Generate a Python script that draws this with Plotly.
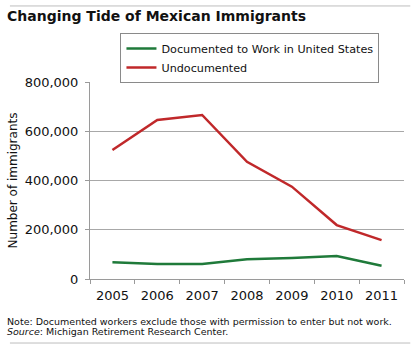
import plotly.graph_objects as go

years = ["2005", "2006", "2007", "2008", "2009", "2010", "2011"]
documented = [68000, 61000, 61000, 80000, 85000, 93000, 54000]
undocumented = [524000, 646000, 666000, 476000, 375000, 219000, 158000]
y_ticks = [0, 200000, 400000, 600000, 800000]
y_tick_labels = ["0", "200,000", "400,000", "600,000", "800,000"]

FONT = "DejaVu Sans"
fig = go.Figure()
fig.add_trace(go.Scatter(x=years, y=documented, mode="lines",
                         name="Documented to Work in United States",
                         line=dict(color="#1f7a3a", width=2.5)))
fig.add_trace(go.Scatter(x=years, y=undocumented, mode="lines",
                         name="Undocumented",
                         line=dict(color="#c0282a", width=2.5)))

fig.update_layout(
    width=416, height=349,
    margin=dict(l=86, r=12, t=82, b=70),
    paper_bgcolor="white", plot_bgcolor="white",
    font=dict(family=FONT, color="#111111"),
    showlegend=True,
    legend=dict(x=0.097, y=1.249, xanchor="left", yanchor="top",
                bordercolor="#8a8a8a", borderwidth=1,
                font=dict(size=11.2, family=FONT, color="#111"),
                tracegroupgap=0, itemwidth=30),
    xaxis=dict(type="category", showgrid=False, showline=True,
               linecolor="#9a9a9a", linewidth=1, ticks="outside",
               tickson="boundaries", ticklen=4, tickcolor="#9a9a9a",
               tickfont=dict(size=13, family=FONT, color="#111"),
               ticklabelstandoff=4,
               range=[-0.5, 6.5]),
    yaxis=dict(range=[0, 800000], tickvals=y_ticks, ticktext=y_tick_labels,
               showgrid=True, gridcolor="#a8a8a8", gridwidth=1,
               showline=True, linecolor="#9a9a9a", zeroline=False,
               ticks="outside", ticklen=4, tickcolor="#9a9a9a",
               tickfont=dict(size=13, family=FONT, color="#111"),
               ticklabelstandoff=4,
               title=dict(text="Number of immigrants", standoff=4,
                          font=dict(size=12, family=FONT, color="#111"))),
)

fig.add_annotation(text="<b>Changing Tide of Mexican Immigrants</b>",
                   xref="paper", yref="paper", x=-0.27, y=1.335,
                   xanchor="left", yanchor="middle", showarrow=False,
                   font=dict(size=14, family=FONT, color="#111"))
fig.add_annotation(text="Note: Documented workers exclude those with permission to enter but not work.",
                   xref="paper", yref="paper", x=-0.27, y=-0.218,
                   xanchor="left", yanchor="middle", showarrow=False, align="left",
                   font=dict(size=9.5, family=FONT, color="#111"))
fig.add_annotation(text="<i>Source</i>: Michigan Retirement Research Center.",
                   xref="paper", yref="paper", x=-0.27, y=-0.269,
                   xanchor="left", yanchor="middle", showarrow=False, align="left",
                   font=dict(size=9.5, family=FONT, color="#111"))
fig.add_shape(type="line", xref="paper", yref="paper", x0=-0.255, x1=1.02,
              y0=1.386, y1=1.386, line=dict(color="#bdbdbd", width=1))
fig.add_shape(type="line", xref="paper", yref="paper", x0=-0.255, x1=1.02,
              y0=-0.325, y1=-0.325, line=dict(color="#bdbdbd", width=1))

fig.write_html("out.html")
